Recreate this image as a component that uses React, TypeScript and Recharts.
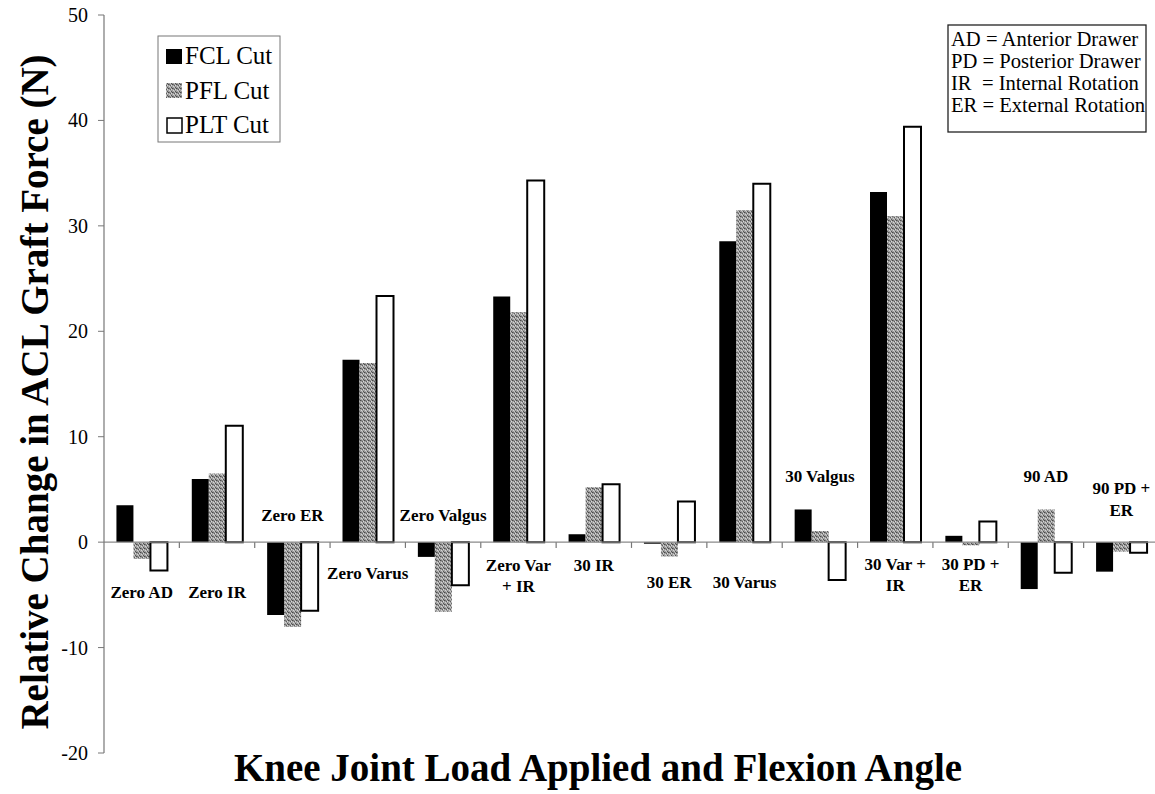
import React from 'react';
import { BarChart, Bar, XAxis, YAxis, ReferenceLine, ReferenceDot } from 'recharts';

const categories = [
  'Zero AD', 'Zero IR', 'Zero ER', 'Zero Varus', 'Zero Valgus', 'Zero Var + IR', '30 IR',
  '30 ER', '30 Varus', '30 Valgus', '30 Var + IR', '30 PD + ER', '90 AD', '90 PD + ER',
];
const labelLines = [
  ['Zero AD'], ['Zero IR'], ['Zero ER'], ['Zero Varus'], ['Zero Valgus'], ['Zero Var', '+ IR'], ['30 IR'],
  ['30 ER'], ['30 Varus'], ['30 Valgus'], ['30 Var +', 'IR'], ['30 PD +', 'ER'], ['90 AD'], ['90 PD +', 'ER'],
];
// value (N) at which each category caption is centred
const labelAnchor = [-4.75, -4.75, 2.55, -2.9, 2.6, -2.15, -2.15, -3.8, -3.8, 6.3, -2.07, -2.07, 6.3, 5.1];

const fclCut = [3.5, 6.0, -6.9, 17.3, -1.4, 23.3, 0.75, -0.15, 28.55, 3.1, 33.2, 0.6, -4.45, -2.8];
const pflCut = [-1.6, 6.5, -8.05, 17.0, -6.6, 21.8, 5.2, -1.35, 31.5, 1.05, 30.9, -0.3, 3.1, -0.9];
const pltCut = [-2.7, 11.05, -6.5, 23.35, -4.1, 34.3, 5.5, 3.85, 34.0, -3.6, 39.4, 1.95, -2.9, -1.0];

const yTicks = [-20, -10, 0, 10, 20, 30, 40, 50];
const legendItems = ['FCL Cut', 'PFL Cut', 'PLT Cut'];
const noteLines = ['AD = Anterior Drawer', 'PD = Posterior Drawer', 'IR  = Internal Rotation', 'ER = External Rotation'];

const data = categories.map((name, i) => ({
  name,
  fcl: fclCut[i],
  pfl: pflCut[i],
  plt: pltCut[i],
}));

const SERIF = 'Liberation Serif';

function CatLabel(props: any) {
  const { cx, cy, lines } = props;
  if (cx == null || cy == null) return null;
  return (
    <text textAnchor="middle" fontFamily={SERIF} fontWeight="bold" fontSize={17} fill="#000">
      {lines.map((l: string, k: number) => (
        <tspan key={k} x={cx} y={cy + 6 + k * 21.5}>{l}</tspan>
      ))}
    </text>
  );
}

function YTick(props: any) {
  const { x, y, payload } = props;
  return (
    <text x={x} y={y + 7} textAnchor="end" fontFamily={SERIF} fontSize={20} fill="#000">
      {payload.value}
    </text>
  );
}

export default function App() {
  return (
    <div style={{ position: 'absolute', left: 0, top: 0, width: 1155, height: 794, overflow: 'hidden', background: '#fff' }}>
      <BarChart
        width={1159}
        height={794}
        data={data}
        margin={{ top: 15, right: 0, bottom: 41, left: 0 }}
        barCategoryGap="16.5%"
        barGap={0}
      >
        <defs>
          <pattern id="stipple" width="4" height="4" patternUnits="userSpaceOnUse">
            <rect width="4" height="4" fill="#9e9e9e" />
            <rect x="0" y="0" width="1" height="1" fill="#4a4a4a" />
            <rect x="2" y="1" width="1" height="1" fill="#5e5e5e" />
            <rect x="1" y="2" width="1" height="1" fill="#d4d4d4" />
            <rect x="3" y="3" width="1" height="1" fill="#555" />
            <rect x="3" y="1" width="1" height="1" fill="#dadada" />
            <rect x="1" y="0" width="1" height="1" fill="#737373" />
            <rect x="2" y="3" width="1" height="1" fill="#c8c8c8" />
          </pattern>
        </defs>
        <XAxis dataKey="name" hide />
        <YAxis
          domain={[-20, 50]}
          ticks={yTicks}
          interval={0}
          width={104}
          tickSize={6}
          tickMargin={10}
          axisLine={{ stroke: '#777', strokeWidth: 1.2 }}
          tickLine={{ stroke: '#777' }}
          tick={<YTick />}
          allowDataOverflow
        />
        <ReferenceLine y={0} stroke="#8a8a8a" strokeWidth={1.2} />
        {categories.slice(1).map((c) => (
          <ReferenceLine
            key={'t' + c}
            segment={[{ x: c, y: 0 }, { x: c, y: -0.55 }]}
            position="start"
            stroke="#777"
            strokeWidth={1.2}
          />
        ))}
        <Bar dataKey="fcl" fill="#000" isAnimationActive={false} />
        <Bar dataKey="pfl" fill="url(#stipple)" isAnimationActive={false} />
        <Bar dataKey="plt" fill="#fff" stroke="#000" strokeWidth={2} isAnimationActive={false} />
        {categories.map((c, i) => (
          <ReferenceDot
            key={'l' + c}
            x={c}
            y={labelAnchor[i]}
            r={0}
            fill="none"
            stroke="none"
            shape={(p: any) => <CatLabel cx={p.cx} cy={p.cy} lines={labelLines[i]} />}
          />
        ))}

        {/* axis titles */}
        <text x={598} y={781} textAnchor="middle" fontFamily={SERIF} fontWeight="bold" fontSize={39} fill="#000">
          Knee Joint Load Applied and Flexion Angle
        </text>
        <text
          transform="translate(48,392) rotate(-90)"
          textAnchor="middle"
          fontFamily={SERIF}
          fontWeight="bold"
          fontSize={39}
          fill="#000"
        >
          Relative Change in ACL Graft Force (N)
        </text>

        {/* series legend */}
        <rect x={158} y={36} width={122} height={106} fill="#fff" stroke="#777" strokeWidth={1} />
        <rect x={166} y={49} width={16} height={15} fill="#000" />
        <rect x={166} y={83} width={16} height={15} fill="url(#stipple)" />
        <rect x={167} y={118} width={15} height={15} fill="#fff" stroke="#000" strokeWidth={1.5} />
        {legendItems.map((t, k) => (
          <text key={t} x={185} y={64 + k * 34.5} fontFamily={SERIF} fontSize={25} fill="#000">{t}</text>
        ))}

        {/* abbreviation box */}
        <rect x={948} y={25} width={198} height={107} fill="#fff" stroke="#222" strokeWidth={1.3} />
        {noteLines.map((t, k) => (
          <text
            key={t}
            x={951}
            y={46 + k * 22}
            fontFamily={SERIF}
            fontSize={20.6}
            fill="#000"
            style={{ whiteSpace: 'pre' }}
          >
            {t}
          </text>
        ))}
      </BarChart>
    </div>
  );
}
